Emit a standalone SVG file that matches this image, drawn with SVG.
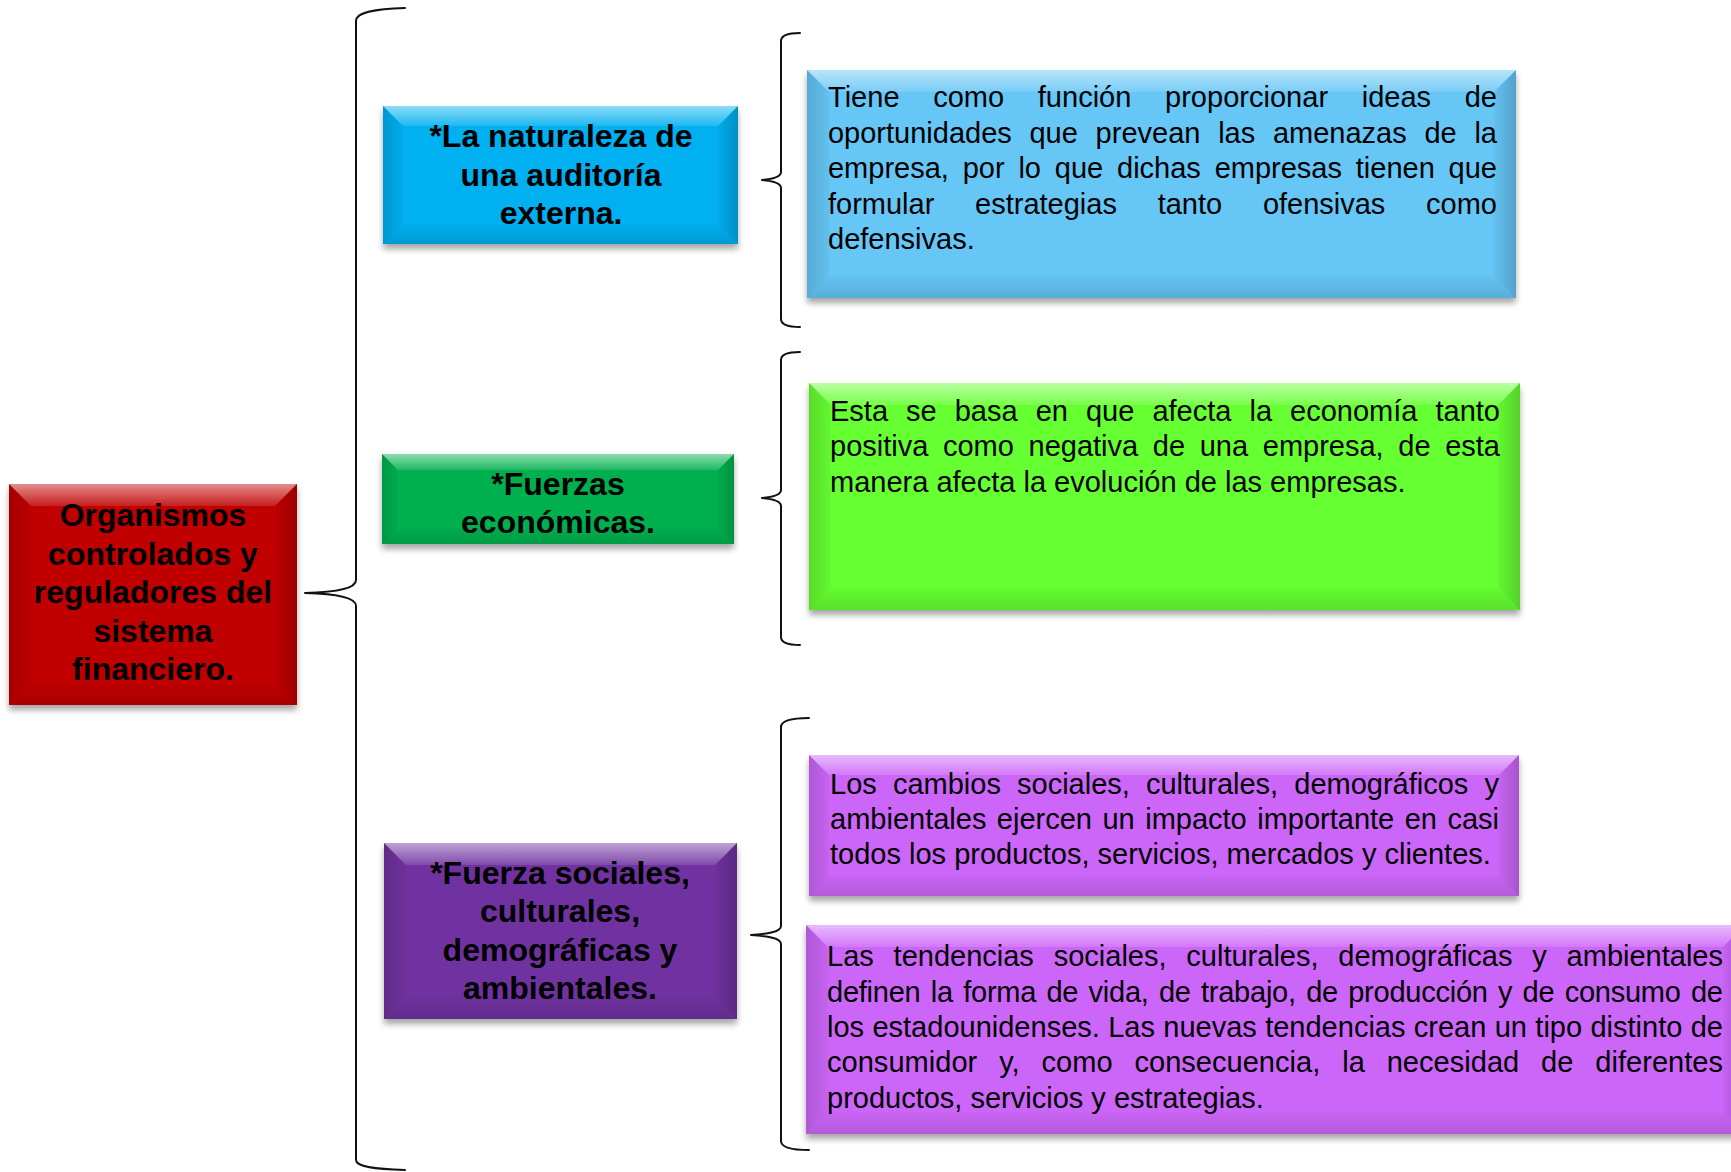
<svg xmlns="http://www.w3.org/2000/svg" width="1731" height="1172" viewBox="0 0 1731 1172">
<style>
.hd{font-family:"Liberation Sans",Arial,sans-serif;font-weight:bold;font-size:32px;text-anchor:middle;fill:#000}
.bd{font-family:"Liberation Sans",Arial,sans-serif;font-size:29px;fill:#000}
.brace{fill:none;stroke:#111;stroke-width:2;stroke-linejoin:round;stroke-linecap:round}
.bt{fill:url(#gTop)}
.bl{fill:url(#gLeft)}
.br{fill:url(#gRight)}
.bb{fill:url(#gBot)}
</style>
<defs>
<filter id="sh" x="-5%" y="-5%" width="110%" height="120%">
<feDropShadow dx="0" dy="5" stdDeviation="3" flood-color="#000" flood-opacity="0.35"/>
</filter>
<linearGradient id="gTop" x1="0" y1="0" x2="0" y2="1"><stop offset="0" stop-color="#fff" stop-opacity="0.55"/><stop offset="1" stop-color="#fff" stop-opacity="0.12"/></linearGradient>
<linearGradient id="gLeft" x1="0" y1="0" x2="1" y2="0"><stop offset="0" stop-color="#000" stop-opacity="0.14"/><stop offset="1" stop-color="#000" stop-opacity="0.03"/></linearGradient>
<linearGradient id="gRight" x1="0" y1="0" x2="1" y2="0"><stop offset="0" stop-color="#000" stop-opacity="0.03"/><stop offset="1" stop-color="#000" stop-opacity="0.18"/></linearGradient>
<linearGradient id="gBot" x1="0" y1="0" x2="0" y2="1"><stop offset="0" stop-color="#000" stop-opacity="0.02"/><stop offset="1" stop-color="#000" stop-opacity="0.12"/></linearGradient>
</defs>
<rect width="1731" height="1172" fill="#fff"/>

<g id="connectors">
<path class="brace" d="M405,8 C375,9 356,12 356,21 L356,580 C356,588 340,592 305,593 C340,594 356,598 356,606 L356,1160 C356,1167 375,1169 405,1170"/>
<path class="brace" d="M800,33 C788,33 781,35 781,41 L781,172 C781,177 773,179 762,180 C773,181 781,183 781,188 L781,319 C781,325 788,327 800,327"/>
<path class="brace" d="M800,352 C788,352 781,354 781,360 L781,490 C781,495 773,497 762,498 C773,499 781,501 781,506 L781,637 C781,643 788,645 800,645"/>
<path class="brace" d="M809,718 C792,718 781,720 781,727 L781,926 C781,932 768,934 751,935 C768,936 781,938 781,944 L781,1141 C781,1148 792,1150 809,1150"/>
</g>

<g id="node-root">
<rect x="9" y="484" width="288" height="221" fill="#c00000" filter="url(#sh)"/>
<polygon class="bt" points="9,484 297,484 275,506 31,506"/>
<polygon class="bl" points="9,484 31,506 31,683 9,705"/>
<polygon class="br" points="297,484 297,705 275,683 275,506"/>
<polygon class="bb" points="9,705 297,705 275,683 31,683"/>
<text class="hd"><tspan x="153" y="526">Organismos</tspan><tspan x="153" y="564.6">controlados y</tspan><tspan x="153" y="603.2">reguladores del</tspan><tspan x="153" y="641.8">sistema</tspan><tspan x="153" y="680.4">financiero.</tspan></text>
</g>

<g id="node-auditoria">
<rect x="383" y="106" width="355" height="138" fill="#00b0f0" filter="url(#sh)"/>
<polygon class="bt" points="383,106 738,106 718,126 403,126"/>
<polygon class="bl" points="383,106 403,126 403,224 383,244"/>
<polygon class="br" points="738,106 738,244 718,224 718,126"/>
<polygon class="bb" points="383,244 738,244 718,224 403,224"/>
<text class="hd"><tspan x="561" y="147">*La naturaleza de</tspan><tspan x="561" y="185.5">una auditoría</tspan><tspan x="561" y="223.5">externa.</tspan></text>
</g>

<g id="node-economicas">
<rect x="382" y="454" width="352" height="90" fill="#00b050" filter="url(#sh)"/>
<polygon class="bt" points="382,454 734,454 718,470 398,470"/>
<polygon class="bl" points="382,454 398,470 398,528 382,544"/>
<polygon class="br" points="734,454 734,544 718,528 718,470"/>
<polygon class="bb" points="382,544 734,544 718,528 398,528"/>
<text class="hd"><tspan x="558" y="495">*Fuerzas</tspan><tspan x="558" y="532.5">económicas.</tspan></text>
</g>

<g id="node-sociales">
<rect x="384" y="843" width="353" height="176" fill="#7030a0" filter="url(#sh)"/>
<polygon class="bt" points="384,843 737,843 715,865 406,865"/>
<polygon class="bl" points="384,843 406,865 406,997 384,1019"/>
<polygon class="br" points="737,843 737,1019 715,997 715,865"/>
<polygon class="bb" points="384,1019 737,1019 715,997 406,997"/>
<text class="hd"><tspan x="560" y="883.5">*Fuerza sociales,</tspan><tspan x="560" y="922">culturales,</tspan><tspan x="560" y="960.5">demográficas y</tspan><tspan x="560" y="999">ambientales.</tspan></text>
</g>

<g id="node-desc-auditoria">
<rect x="807" y="70" width="709" height="228" fill="#66c6f6" filter="url(#sh)"/>
<polygon class="bt" points="807,70 1516,70 1494,92 829,92"/>
<polygon class="bl" points="807,70 829,92 829,276 807,298"/>
<polygon class="br" points="1516,70 1516,298 1494,276 1494,92"/>
<polygon class="bb" points="807,298 1516,298 1494,276 829,276"/>
<text class="bd" x="828" y="107" word-spacing="25.5" textLength="669" lengthAdjust="spacing">Tiene como función proporcionar ideas de</text>
<text class="bd" x="828" y="142.6" word-spacing="9.7" textLength="669" lengthAdjust="spacing">oportunidades que prevean las amenazas de la</text>
<text class="bd" x="828" y="178.2" word-spacing="5.8" textLength="669" lengthAdjust="spacing">empresa, por lo que dichas empresas tienen que</text>
<text class="bd" x="828" y="213.8" word-spacing="32.7" textLength="669" lengthAdjust="spacing">formular estrategias tanto ofensivas como</text>
<text class="bd" x="828" y="249.4">defensivas.</text>
</g>

<g id="node-desc-economicas">
<rect x="809" y="383" width="711" height="227" fill="#66ff33" filter="url(#sh)"/>
<polygon class="bt" points="809,383 1520,383 1498,405 831,405"/>
<polygon class="bl" points="809,383 831,405 831,588 809,610"/>
<polygon class="br" points="1520,383 1520,610 1498,588 1498,405"/>
<polygon class="bb" points="809,610 1520,610 1498,588 831,588"/>
<text class="bd" x="830" y="420.5" word-spacing="10" textLength="670" lengthAdjust="spacing">Esta se basa en que afecta la economía tanto</text>
<text class="bd" x="830" y="456" word-spacing="6.6" textLength="670" lengthAdjust="spacing">positiva como negativa de una empresa, de esta</text>
<text class="bd" x="830" y="491.5">manera afecta la evolución de las empresas.</text>
</g>

<g id="node-desc-sociales-1">
<rect x="809" y="755" width="710" height="141" fill="#cc66f8" filter="url(#sh)"/>
<polygon class="bt" points="809,755 1519,755 1499,775 829,775"/>
<polygon class="bl" points="809,755 829,775 829,876 809,896"/>
<polygon class="br" points="1519,755 1519,896 1499,876 1499,775"/>
<polygon class="bb" points="809,896 1519,896 1499,876 829,876"/>
<text class="bd" x="830" y="794" word-spacing="8.1" textLength="669" lengthAdjust="spacing">Los cambios sociales, culturales, demográficos y</text>
<text class="bd" x="830" y="829" word-spacing="2.4" textLength="669" lengthAdjust="spacing">ambientales ejercen un impacto importante en casi</text>
<text class="bd" x="830" y="863.5">todos los productos, servicios, mercados y clientes.</text>
</g>

<g id="node-desc-sociales-2">
<rect x="806" y="925" width="939" height="209" fill="#cc66f8" filter="url(#sh)"/>
<polygon class="bt" points="806,925 1745,925 1723,947 828,947"/>
<polygon class="bl" points="806,925 828,947 828,1112 806,1134"/>
<polygon class="br" points="1745,925 1745,1134 1723,1112 1723,947"/>
<polygon class="bb" points="806,1134 1745,1134 1723,1112 828,1112"/>
<text class="bd" x="827" y="966" word-spacing="11.8" textLength="896" lengthAdjust="spacing">Las tendencias sociales, culturales, demográficas y ambientales</text>
<text class="bd" x="827" y="1001.5" word-spacing="2.5" textLength="896" lengthAdjust="spacing">definen la forma de vida, de trabajo, de producción y de consumo de</text>
<text class="bd" x="827" y="1037" word-spacing="0.3" textLength="896" lengthAdjust="spacing">los estadounidenses. Las nuevas tendencias crean un tipo distinto de</text>
<text class="bd" x="827" y="1072" word-spacing="13.8" textLength="896" lengthAdjust="spacing">consumidor y, como consecuencia, la necesidad de diferentes</text>
<text class="bd" x="827" y="1107.5">productos, servicios y estrategias.</text>
</g>
</svg>
